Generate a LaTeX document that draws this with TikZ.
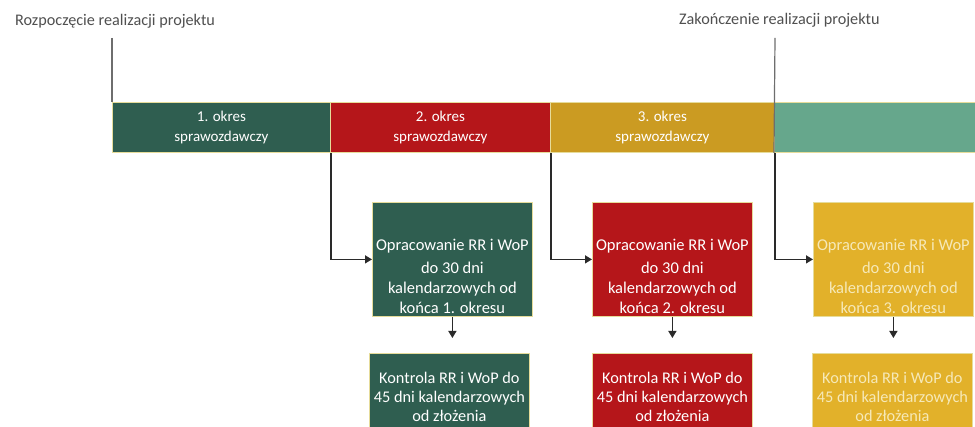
\documentclass[tikz,border=0pt]{standalone}
\usepackage{fontspec}
\setmainfont{Carlito}
\usetikzlibrary{arrows.meta,calc}
\definecolor{cgreen}{HTML}{2F5E50}
\definecolor{cred}{HTML}{B5161A}
\definecolor{cochre}{HTML}{CB9B22}
\definecolor{cteal}{HTML}{66A78C}
\definecolor{cyellow}{HTML}{E2B12A}
\definecolor{cedge}{HTML}{E6DC9A}
\definecolor{cline}{HTML}{2A2A2A}
\definecolor{cgray}{HTML}{6E6E6E}
\definecolor{clabel}{HTML}{505050}
\definecolor{cpale}{HTML}{F6E9B8}
\tikzset{
  seg/.style={draw=cedge, line width=0.8pt, text=white, align=center,
    font=\fontsize{15}{20}\selectfont, inner sep=0pt, minimum height=50pt, anchor=north west},
  ubox/.style={draw=cedge, line width=0.8pt, inner sep=0pt, minimum width=160pt,
    minimum height=114pt, anchor=north west},
  lbox/.style={draw=cedge, line width=0.8pt, inner sep=0pt, minimum width=160pt,
    minimum height=88pt, anchor=north west, text=white, align=center,
    font=\fontsize{16.3}{19}\selectfont},
  btext/.style={text=white, align=center, font=\fontsize{16.5}{20}\selectfont, inner sep=0pt},
  toplabel/.style={text=clabel, font=\fontsize{16.2}{18}\selectfont, inner sep=0pt},
  conn/.style={draw=cline, line width=1.4pt, -{Triangle[length=7pt,width=8pt]}},
  mark line/.style={draw=cgray, line width=1.2pt}
}
\begin{document}
\begin{tikzpicture}[x=1pt,y=-1pt]
\useasboundingbox (0,0) rectangle (975,427);
\clip (0,0) rectangle (975,427);
\fill[white] (0,0) rectangle (975,427);
% top labels
\node[toplabel, anchor=west] (start) at (15,21) {Rozpoczęcie realizacji projektu};
\node[toplabel, anchor=west] (end) at (679,20) {Zakończenie realizacji projektu};
% timeline bar
\node[seg, fill=cgreen, minimum width=218pt] (s1) at (112,102) {1. okres\\sprawozdawczy};
\node[seg, fill=cred, minimum width=220pt] (s2) at (330,102) {2. okres\\sprawozdawczy};
\node[seg, fill=cochre, minimum width=224pt] (s3) at (550,102) {3. okres\\sprawozdawczy};
\node[seg, fill=cteal, minimum width=215pt] (s4) at (774,102) {};
% start / end markers
\coordinate (startbot) at (112,38);
\coordinate (endtop) at (775,38);
\draw[mark line] (startbot) -- (s1.north west);
\draw[mark line] (endtop) -- (s4.south west);
% upper boxes
\node[ubox, fill=cgreen] (b1) at (372,202) {};
\node[btext, text=white] (t1) at ($(b1.center)+(0,17)$) {Opracowanie RR i WoP\\[3pt]do 30 dni\\kalendarzowych od\\końca 1. okresu};
\node[ubox, fill=cred] (b2) at (592,202) {};
\node[btext, text=white] (t2) at ($(b2.center)+(0,17)$) {Opracowanie RR i WoP\\[3pt]do 30 dni\\kalendarzowych od\\końca 2. okresu};
\node[ubox, fill=cyellow] (b3) at (813,202) {};
\node[btext, text=cpale] (t3) at ($(b3.center)+(0,17)$) {Opracowanie RR i WoP\\[3pt]do 30 dni\\kalendarzowych od\\końca 3. okresu};
% lower boxes
\node[lbox, fill=cgreen] (c1) at (369,353) {Kontrola RR i WoP do\\45 dni kalendarzowych\\od złożenia};
\node[lbox, fill=cred] (c2) at (592,353) {Kontrola RR i WoP do\\45 dni kalendarzowych\\od złożenia};
\node[lbox, fill=cyellow, text=cpale] (c3) at (812,353) {Kontrola RR i WoP do\\45 dni kalendarzowych\\od złożenia};
% connectors
\draw[conn] (s1.south east) |- (b1.west);
\draw[conn] (s2.south east) |- (b2.west);
\draw[conn] (s3.south east) |- (b3.west);
\draw[conn, shorten >=15pt] (b1.south) -- (b1.south |- c1.north);
\draw[conn, shorten >=15pt] (b2.south) -- (b2.south |- c2.north);
\draw[conn, shorten >=15pt] (b3.south) -- (b3.south |- c3.north);
\end{tikzpicture}
\end{document}
